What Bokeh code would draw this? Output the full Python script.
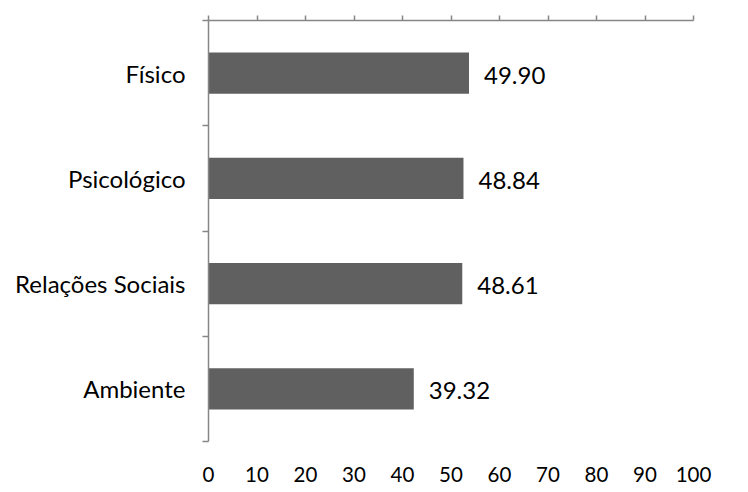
from bokeh.plotting import figure
from bokeh.models import Range1d, LinearAxis, FixedTicker, ColumnDataSource, CustomJSTickFormatter
from bokeh.core.properties import value
from bokeh.embed import file_html
from bokeh.resources import INLINE

categories = ["Físico", "Psicológico", "Relações Sociais", "Ambiente"]
scores = [49.90, 48.84, 48.61, 39.32]
x_ticks = [0, 10, 20, 30, 40, 50, 60, 70, 80, 90, 100]

FONT = "Lato"
FS_BIG = "24px"
FS_TICK = "20.5px"
AXIS_COLOR = "#868686"
BAR_COLOR = "#606060"

n = len(categories)
pos = [i + 0.5 for i in range(n)]
src = ColumnDataSource(dict(
    y=pos, v=scores, lab=["%.2f" % s for s in scores]))

p = figure(width=732, height=492, output_backend="svg", toolbar_location=None,
           x_axis_location=None, y_axis_location=None,
           min_border_left=208, min_border_right=39,
           min_border_top=20, min_border_bottom=51)
# bars are drawn in the reference slightly longer than the axis scale suggests
p.x_range = Range1d(0, 92.9)
p.y_range = Range1d(n, 0)
p.extra_x_ranges = {"axis": Range1d(0, 100)}
p.grid.visible = False
p.outline_line_color = None
p.background_fill_color = "white"
p.border_fill_color = "white"

p.hbar(y="y", right="v", left=0, height=0.394, source=src,
       fill_color=BAR_COLOR, line_color=None)
p.text(x="v", y="y", text="lab", source=src, x_offset=15, y_offset=2,
       text_align="left", text_baseline="middle",
       text_font=value(FONT), text_font_size=FS_BIG, text_color="black")

# top axis: line + upward ticks, no labels
top = LinearAxis(x_range_name="axis", ticker=FixedTicker(ticks=x_ticks),
                 formatter=CustomJSTickFormatter(code="return ''"))
top.axis_line_color = AXIS_COLOR
top.axis_line_width = 1.5
top.major_tick_line_color = AXIS_COLOR
top.major_tick_line_width = 1.5
top.major_tick_out = 5
top.major_tick_in = 0
top.minor_tick_line_color = None
top.major_label_standoff = 0
p.add_layout(top, "above")

# bottom axis: labels only
bot = LinearAxis(x_range_name="axis", ticker=FixedTicker(ticks=x_ticks))
bot.axis_line_color = None
bot.major_tick_line_color = None
bot.minor_tick_line_color = None
bot.major_tick_out = 0
bot.major_tick_in = 0
bot.major_label_standoff = 25
bot.major_label_text_font = FONT
bot.major_label_text_font_size = FS_TICK
bot.major_label_text_color = "black"
p.add_layout(bot, "below")

# left axis: labels at category centres, ticks at category boundaries
left = LinearAxis(ticker=FixedTicker(ticks=pos, minor_ticks=list(range(n + 1))))
left.major_label_overrides = {pv: c for pv, c in zip(pos, categories)}
left.axis_line_color = AXIS_COLOR
left.axis_line_width = 1.5
left.major_tick_line_color = None
left.major_tick_out = 0
left.major_tick_in = 0
left.minor_tick_line_color = AXIS_COLOR
left.minor_tick_line_width = 1.5
left.minor_tick_out = 6
left.minor_tick_in = 0
left.major_label_standoff = 17
left.major_label_text_font = FONT
left.major_label_text_font_size = FS_BIG
left.major_label_text_color = "black"
p.add_layout(left, "left")

open("out.html", "w").write(file_html(p, INLINE))
